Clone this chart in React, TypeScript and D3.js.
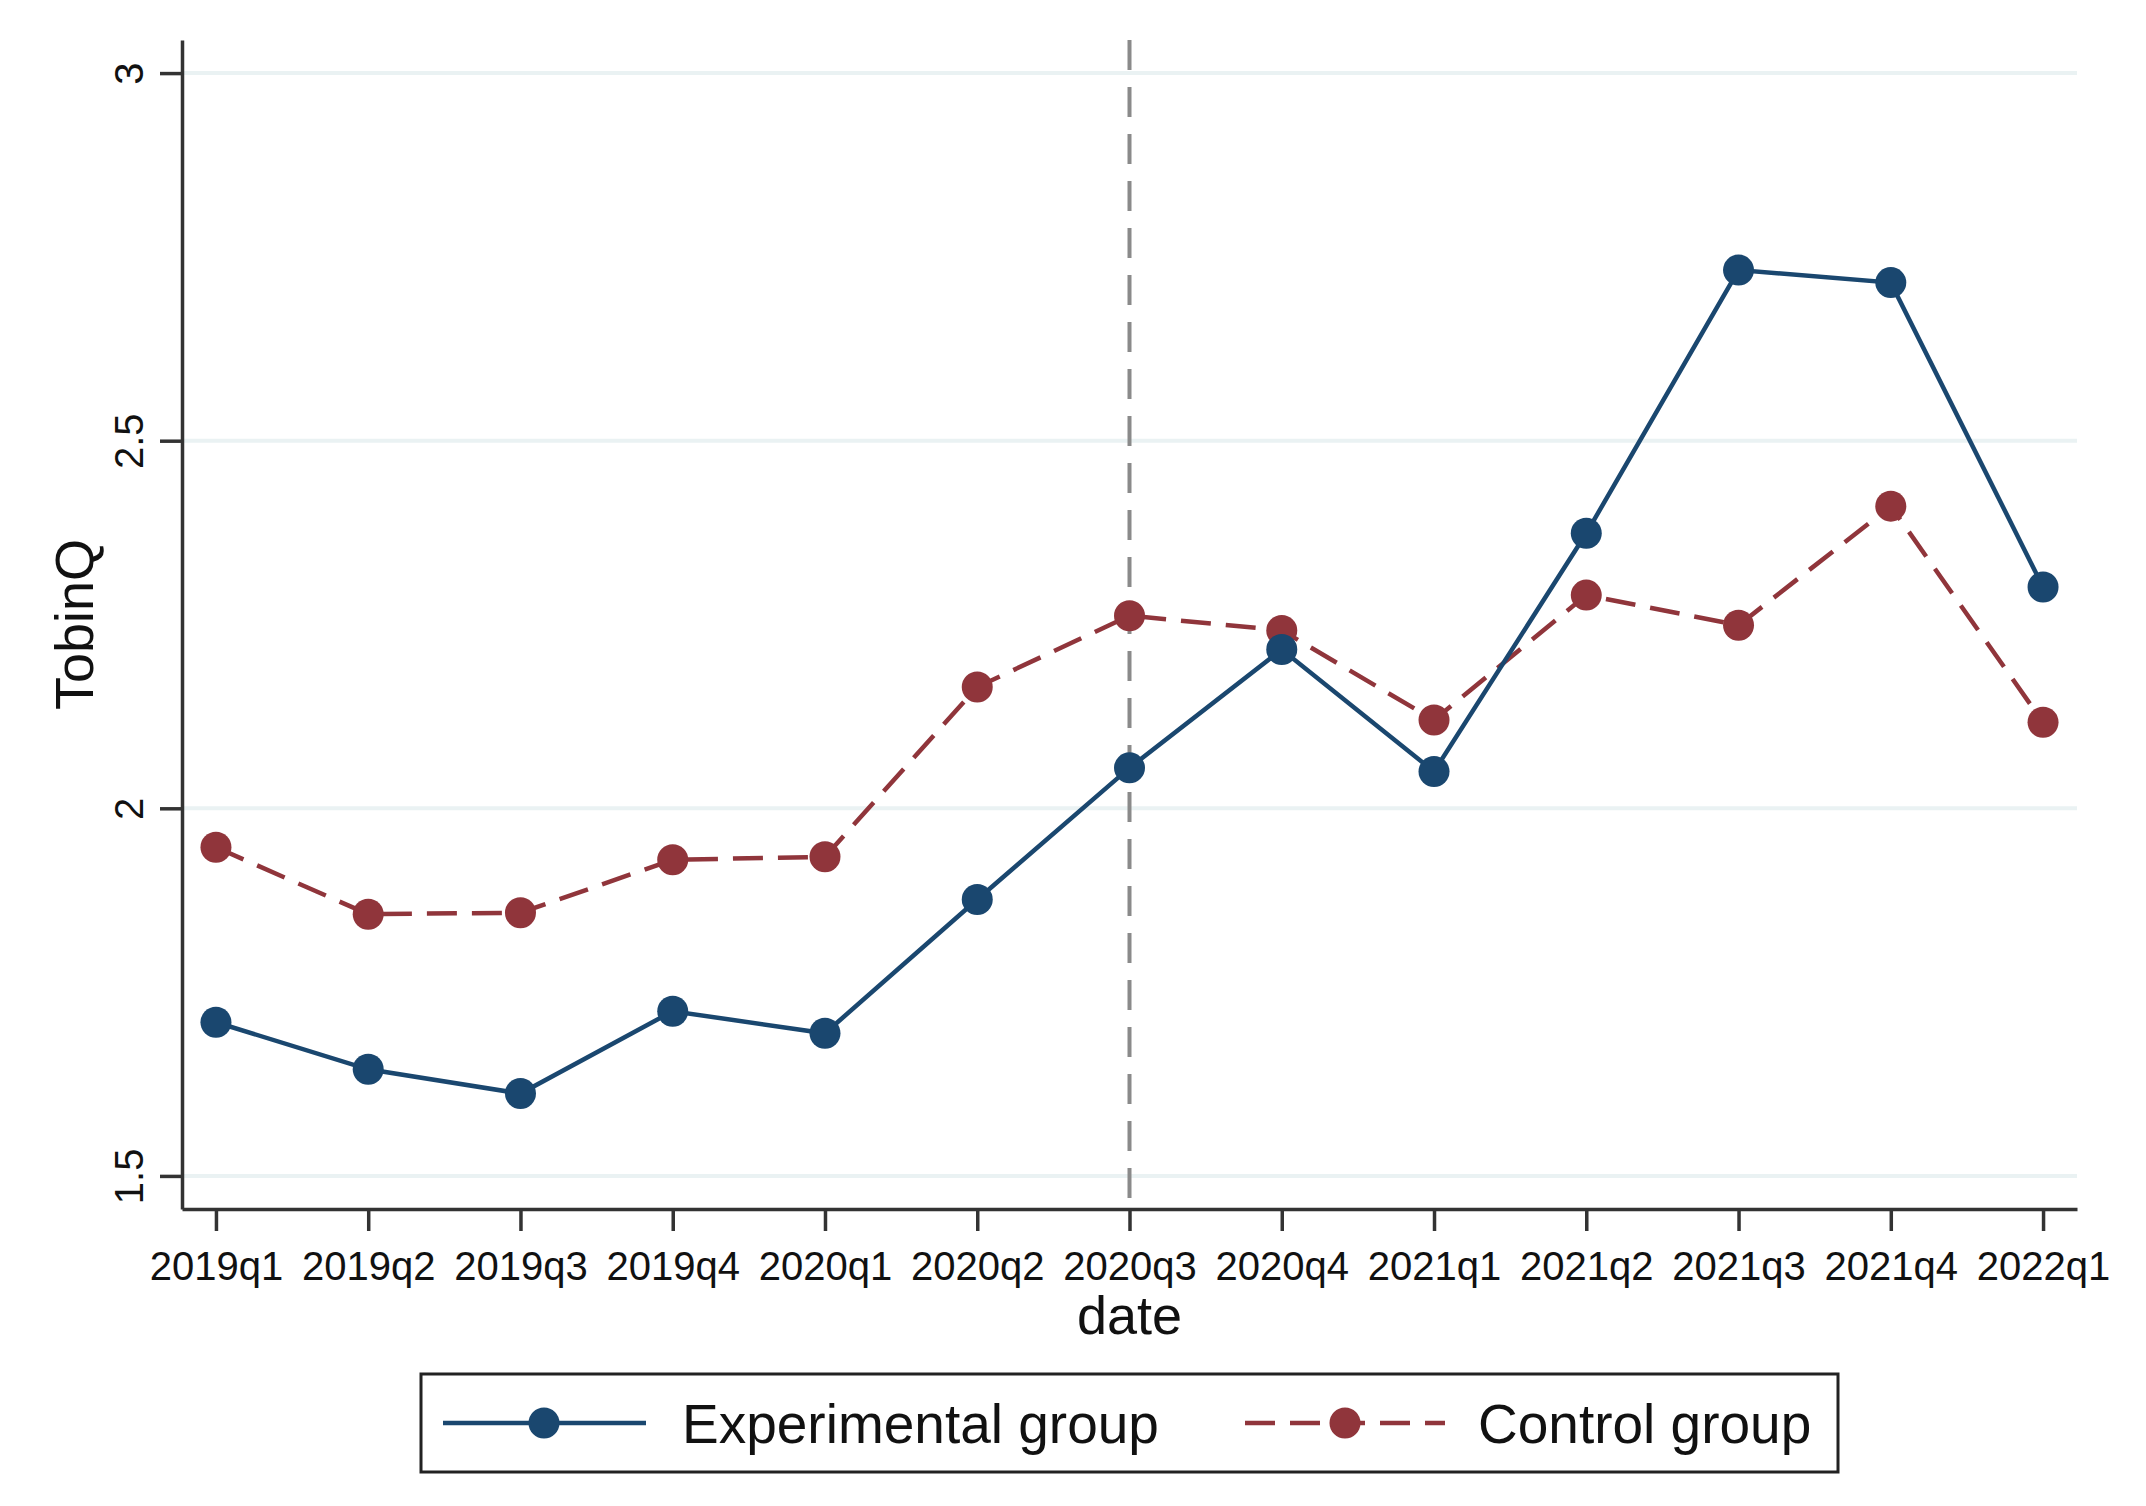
import React, { useEffect, useRef } from 'react';
import * as d3 from 'd3';

const quarters = [
  '2019q1', '2019q2', '2019q3', '2019q4', '2020q1', '2020q2', '2020q3',
  '2020q4', '2021q1', '2021q2', '2021q3', '2021q4', '2022q1',
];
const experimental = [1.709, 1.645, 1.612, 1.724, 1.694, 1.876, 2.055, 2.216, 2.050, 2.374, 2.732, 2.715, 2.301];
const control = [1.947, 1.856, 1.858, 1.930, 1.934, 2.165, 2.262, 2.242, 2.120, 2.290, 2.249, 2.411, 2.117];
const yTicks = [1.5, 2, 2.5, 3];
const eventQuarter = '2020q3';

const BLUE = '#1a476f';
const RED = '#90353b';
const FONT = '"Liberation Sans", Arial, sans-serif';

const App: React.FC = () => {
  const svgRef = useRef<SVGSVGElement | null>(null);

  useEffect(() => {
    const W = 2146;
    const H = 1506;
    const margin = { top: 40, right: 69, bottom: 297, left: 182 };
    const x0 = margin.left;
    const x1 = W - margin.right;
    const y0 = margin.top;
    const y1 = H - margin.bottom;

    const svg = d3.select(svgRef.current)
      .attr('width', W)
      .attr('height', H);
    svg.selectAll('*').remove();

    const xScale = d3.scalePoint<string>()
      .domain(quarters)
      .range([x0, x1])
      .padding(0.223);

    const yScale = d3.scaleLinear()
      .domain([1.455, 3.045])
      .range([y1, y0]);

    // grid lines
    svg.append('g')
      .selectAll('line')
      .data(yTicks)
      .enter().append('line')
      .attr('x1', x0)
      .attr('x2', x1)
      .attr('y1', d => yScale(d))
      .attr('y2', d => yScale(d))
      .attr('stroke', '#eaf2f3')
      .attr('stroke-width', 4);

    // vertical event line
    svg.append('line')
      .attr('x1', xScale(eventQuarter)!)
      .attr('x2', xScale(eventQuarter)!)
      .attr('y1', y0)
      .attr('y2', y1)
      .attr('stroke', '#8a8a8a')
      .attr('stroke-width', 4)
      .attr('stroke-dasharray', '30,17');

    // axes
    const yAxis = svg.append('g')
      .attr('transform', `translate(${x0},0)`)
      .call(d3.axisLeft(yScale).tickValues(yTicks).tickSize(22).tickSizeOuter(0).tickFormat(d3.format('')) as any);
    yAxis.select('.domain').attr('stroke', '#333').attr('stroke-width', 3.5);
    yAxis.selectAll('.tick line').attr('stroke', '#333').attr('stroke-width', 3.5);
    yAxis.selectAll('.tick text')
      .attr('x', 0)
      .attr('dy', 0)
      .attr('transform', 'translate(-39,0) rotate(-90)')
      .attr('text-anchor', 'middle')
      .attr('fill', '#111')
      .style('font-family', FONT)
      .style('font-size', '40px');

    const xAxis = svg.append('g')
      .attr('transform', `translate(0,${y1})`)
      .call(d3.axisBottom(xScale).tickSize(22).tickSizeOuter(0) as any);
    xAxis.select('.domain').attr('stroke', '#333').attr('stroke-width', 3.5);
    xAxis.selectAll('.tick line').attr('stroke', '#333').attr('stroke-width', 3.5);
    xAxis.selectAll('.tick text')
      .attr('y', 71)
      .attr('dy', 0)
      .attr('fill', '#111')
      .style('font-family', FONT)
      .style('font-size', '40px');

    // axis titles
    svg.append('text')
      .attr('transform', `translate(93,${(y0 + y1) / 2}) rotate(-90)`)
      .attr('text-anchor', 'middle')
      .attr('fill', '#111')
      .style('font-family', FONT)
      .style('font-size', '54px')
      .text('TobinQ');

    svg.append('text')
      .attr('x', (x0 + x1) / 2)
      .attr('y', 1334)
      .attr('text-anchor', 'middle')
      .attr('fill', '#111')
      .style('font-family', FONT)
      .style('font-size', '54px')
      .text('date');

    const line = d3.line<number>()
      .x((_, i) => xScale(quarters[i])!)
      .y(d => yScale(d));

    // control series
    svg.append('path')
      .datum(control)
      .attr('d', line)
      .attr('fill', 'none')
      .attr('stroke', RED)
      .attr('stroke-width', 4.5)
      .attr('stroke-dasharray', '30,15');

    svg.append('g')
      .selectAll('circle')
      .data(control)
      .enter().append('circle')
      .attr('cx', (_, i) => xScale(quarters[i])!)
      .attr('cy', d => yScale(d))
      .attr('r', 15.5)
      .attr('fill', RED);

    // experimental series
    svg.append('path')
      .datum(experimental)
      .attr('d', line)
      .attr('fill', 'none')
      .attr('stroke', BLUE)
      .attr('stroke-width', 4.5);

    svg.append('g')
      .selectAll('circle')
      .data(experimental)
      .enter().append('circle')
      .attr('cx', (_, i) => xScale(quarters[i])!)
      .attr('cy', d => yScale(d))
      .attr('r', 15.5)
      .attr('fill', BLUE);

    // legend
    const legend = svg.append('g');
    legend.append('rect')
      .attr('x', 421)
      .attr('y', 1374)
      .attr('width', 1838 - 421)
      .attr('height', 1472 - 1374)
      .attr('fill', '#fff')
      .attr('stroke', '#222')
      .attr('stroke-width', 3);

    const ly = 1423;
    legend.append('line')
      .attr('x1', 443).attr('x2', 646)
      .attr('y1', ly).attr('y2', ly)
      .attr('stroke', BLUE).attr('stroke-width', 4.5);
    legend.append('circle')
      .attr('cx', 544).attr('cy', ly).attr('r', 15.5).attr('fill', BLUE);
    legend.append('text')
      .attr('x', 682).attr('y', ly + 20)
      .attr('fill', '#111')
      .style('font-family', FONT)
      .style('font-size', '55px')
      .text('Experimental group');

    legend.append('line')
      .attr('x1', 1245).attr('x2', 1445)
      .attr('y1', ly).attr('y2', ly)
      .attr('stroke', RED).attr('stroke-width', 4.5)
      .attr('stroke-dasharray', '30,15');
    legend.append('circle')
      .attr('cx', 1345).attr('cy', ly).attr('r', 15.5).attr('fill', RED);
    legend.append('text')
      .attr('x', 1478).attr('y', ly + 20)
      .attr('fill', '#111')
      .style('font-family', FONT)
      .style('font-size', '55px')
      .text('Control group');
  }, []);

  return (
    <svg ref={svgRef} style={{ position: 'absolute', left: 0, top: 0, background: '#fff' }}></svg>
  );
};

export default App;
